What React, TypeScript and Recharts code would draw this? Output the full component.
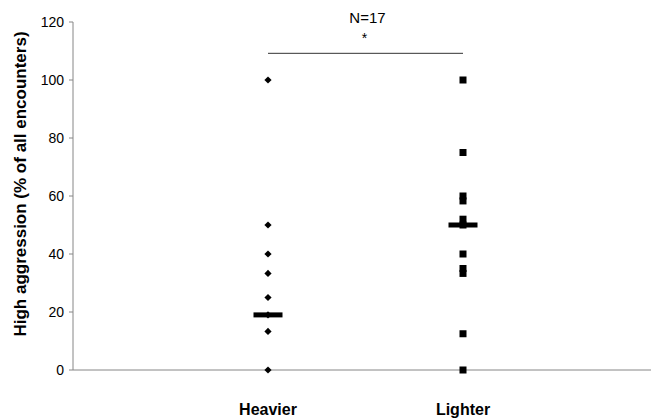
import React from 'react';
import { ScatterChart, Scatter, XAxis, YAxis, ReferenceLine } from 'recharts';

const categories = ['Heavier', 'Lighter'];
const heavierValues = [100, 50, 40, 33.3, 25, 19, 13.3, 0];
const lighterValues = [100, 75, 60, 58.3, 52, 50, 40, 35, 33.3, 12.5, 0];
const medians = [19, 50];
const yTicks = [0, 20, 40, 60, 80, 100, 120];
const sigLevel = 109.2;

const heavierData = heavierValues.map((y) => ({ x: 1, y }));
const lighterData = lighterValues.map((y) => ({ x: 2, y }));
const medianData = medians.map((y, i) => ({ x: i + 1, y }));

const font = '"Liberation Sans", Arial, sans-serif';

const Diamond = (props: any) => {
  const { cx, cy } = props;
  const r = 3.6;
  return <polygon points={`${cx},${cy - r} ${cx + r},${cy} ${cx},${cy + r} ${cx - r},${cy}`} fill="#000" />;
};

const Square = (props: any) => {
  const { cx, cy } = props;
  return <rect x={cx - 3.5} y={cy - 3.5} width={7} height={7} fill="#000" />;
};

const MedianBar = (props: any) => {
  const { cx, cy } = props;
  return <rect x={cx - 14.5} y={cy - 2.5} width={29} height={5} fill="#000" />;
};

const SigLabel = (props: any) => {
  const { viewBox } = props;
  const cx = viewBox.x + viewBox.width / 2;
  const y = viewBox.y;
  return (
    <g fontFamily={font} fill="#000" textAnchor="middle">
      <text x={cx + 2} y={y - 30} fontSize={15}>N=17</text>
      <text x={cx - 1} y={y - 10} fontSize={14}>*</text>
    </g>
  );
};

const YTitle = () => (
  <text
    x={20}
    y={184}
    transform="rotate(-90 20 184)"
    textAnchor="middle"
    dominantBaseline="central"
    fontFamily={font}
    fontSize={17}
    fontWeight="bold"
    fill="#000"
  >
    High aggression (% of all encounters)
  </text>
);

export default function App() {
  return (
    <div style={{ position: 'absolute', left: 0, top: 0, width: 651, height: 418, overflow: 'hidden', background: '#fff' }}>
      <ScatterChart width={658} height={418} margin={{ top: 22, right: 0, bottom: 0, left: 0 }}>
        <XAxis
          type="number"
          dataKey="x"
          domain={[0, 3]}
          ticks={[1, 2]}
          tickFormatter={(v: number) => categories[v - 1]}
          tickLine={false}
          axisLine={{ stroke: '#868686' }}
          height={48}
          tickMargin={28}
          tick={{ fontFamily: font, fontSize: 16, fontWeight: 'bold', fill: '#000' }}
        />
        <YAxis
          type="number"
          dataKey="y"
          domain={[0, 120]}
          ticks={yTicks}
          width={73}
          tickSize={4}
          tickMargin={5}
          axisLine={{ stroke: '#868686' }}
          tickLine={{ stroke: '#868686' }}
          tick={{ fontFamily: font, fontSize: 14, fill: '#000' }}
          label={{ content: () => <YTitle /> }}
        />
        <ReferenceLine
          segment={[{ x: 1, y: sigLevel }, { x: 2, y: sigLevel }]}
          stroke="#333"
          strokeWidth={1}
          label={{ content: (p: any) => <SigLabel {...p} /> }}
        />
        <Scatter data={heavierData} shape={<Diamond />} isAnimationActive={false} />
        <Scatter data={lighterData} shape={<Square />} isAnimationActive={false} />
        <Scatter data={medianData} shape={<MedianBar />} isAnimationActive={false} />
      </ScatterChart>
    </div>
  );
}
